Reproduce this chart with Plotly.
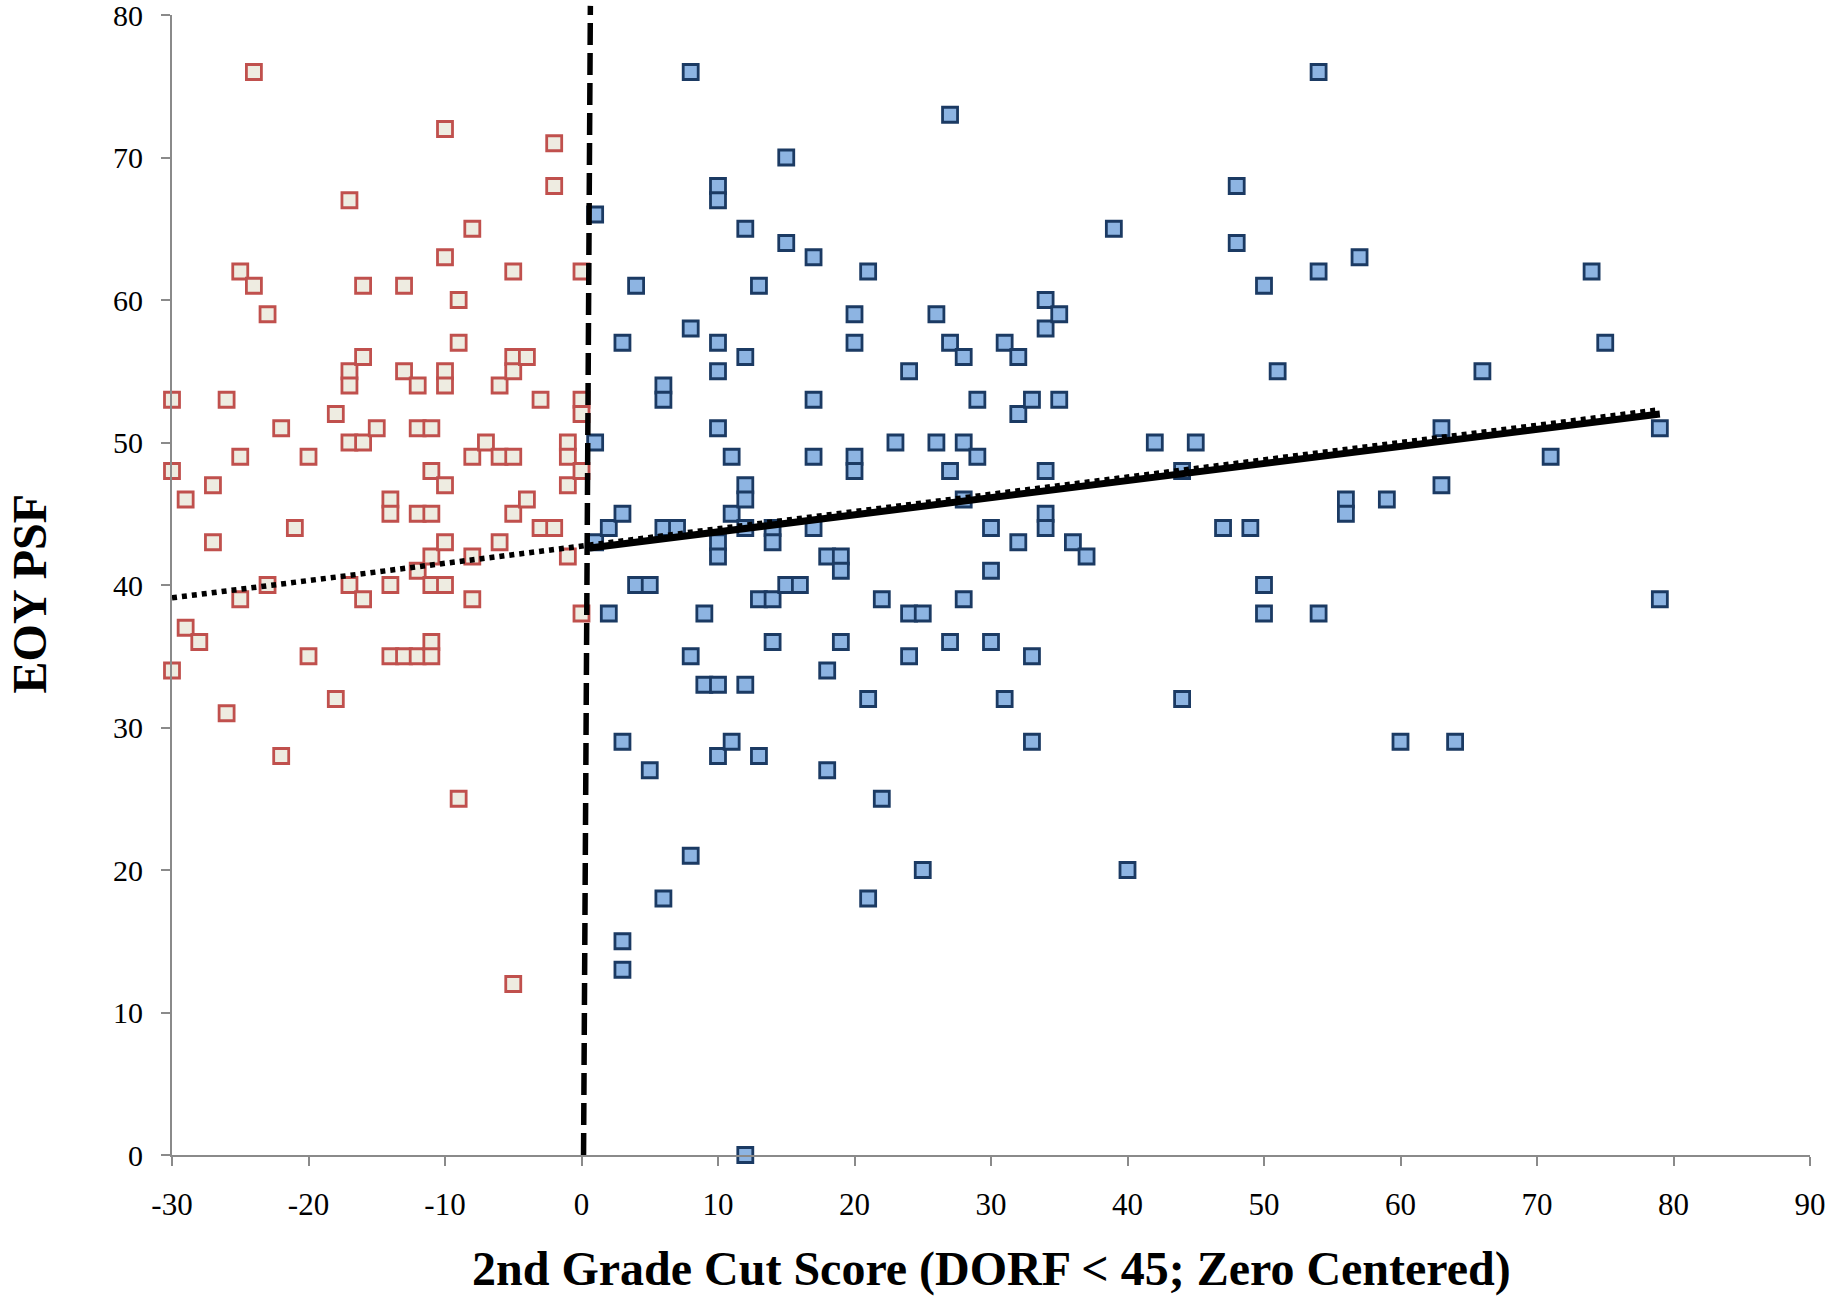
import plotly.graph_objects as go

# ---- data ----
below_x = [-30, -30, -30, -29, -29, -28, -27, -27, -26, -26,
           -25, -25, -25, -24, -24, -23, -23, -22, -22, -21,
           -20, -20, -18, -18, -17, -17, -17, -17, -17, -16,
           -16, -16, -16, -15, -14, -14, -14, -14, -13, -13,
           -13, -12, -12, -12, -12, -12, -11, -11, -11, -11,
           -11, -11, -11, -10, -10, -10, -10, -10, -10, -10,
           -9, -9, -9, -8, -8, -8, -8, -7, -6, -6,
           -6, -5, -5, -5, -5, -5, -5, -4, -4, -3,
           -3, -2, -2, -2, -1, -1, -1, -1, 0, 0,
           0, 0, 0]
below_y = [53, 48, 34, 46, 37, 36, 47, 43, 53, 31,
           62, 49, 39, 76, 61, 59, 40, 51, 28, 44,
           49, 35, 52, 32, 67, 55, 54, 50, 40, 61,
           56, 50, 39, 51, 46, 45, 40, 35, 61, 55,
           35, 54, 51, 45, 41, 35, 51, 48, 45, 42,
           40, 36, 35, 72, 63, 55, 54, 47, 43, 40,
           60, 57, 25, 65, 49, 42, 39, 50, 54, 49,
           43, 62, 56, 55, 49, 45, 12, 56, 46, 53,
           44, 71, 68, 44, 50, 49, 47, 42, 62, 53,
           52, 48, 38]

above_x = [1, 1, 1, 2, 2, 3, 3, 3, 3, 3,
           4, 4, 5, 5, 6, 6, 6, 6, 7, 8,
           8, 8, 8, 9, 9, 10, 10, 10, 10, 10,
           10, 10, 10, 10, 11, 11, 11, 12, 12, 12,
           12, 12, 12, 12, 13, 13, 13, 14, 14, 14,
           14, 15, 15, 15, 16, 17, 17, 17, 17, 18,
           18, 18, 19, 19, 19, 20, 20, 20, 20, 21,
           21, 21, 22, 22, 23, 24, 24, 24, 25, 25,
           26, 26, 27, 27, 27, 27, 28, 28, 28, 28,
           29, 29, 30, 30, 30, 31, 31, 32, 32, 32,
           33, 33, 33, 34, 34, 34, 34, 34, 35, 35,
           36, 37, 39, 40, 42, 44, 44, 45, 47, 48,
           48, 49, 50, 50, 50, 51, 54, 54, 54, 56,
           56, 57, 59, 60, 63, 63, 64, 66, 71, 74,
           75, 79, 79]
above_y = [66, 50, 43, 44, 38, 57, 45, 29, 15, 13,
           61, 40, 40, 27, 54, 53, 44, 18, 44, 76,
           58, 35, 21, 38, 33, 68, 67, 57, 55, 51,
           43, 42, 33, 28, 49, 45, 29, 65, 56, 47,
           46, 44, 33, 0, 61, 39, 28, 44, 43, 39,
           36, 70, 64, 40, 40, 63, 53, 49, 44, 42,
           34, 27, 42, 41, 36, 59, 57, 49, 48, 62,
           32, 18, 39, 25, 50, 55, 38, 35, 38, 20,
           59, 50, 73, 57, 48, 36, 56, 50, 46, 39,
           53, 49, 44, 41, 36, 57, 32, 56, 52, 43,
           53, 35, 29, 60, 58, 48, 45, 44, 59, 53,
           43, 42, 65, 20, 50, 48, 32, 50, 44, 68,
           64, 44, 61, 40, 38, 55, 76, 62, 38, 46,
           45, 63, 46, 29, 51, 47, 29, 55, 49, 62,
           57, 51, 39]

# trend lines (end points)
overall_trend_x = [-30, 79]
overall_trend_y = [39.1, 52.3]
above_trend_x = [0.6, 79]
above_trend_y = [42.6, 52.0]

# cut-score reference line (slightly tilted in the picture)
cut_x = [0.15, 0.65]

x_ticks = list(range(-30, 91, 10))
y_ticks = list(range(0, 81, 10))

SERIF = "Liberation Serif, Times New Roman, serif"
AXIS_GRAY = "#8a8a8a"

fig = go.Figure()

fig.add_trace(go.Scatter(
    x=below_x, y=below_y, mode="markers", cliponaxis=False,
    marker=dict(symbol="square", size=15, color="#EEECE1",
                line=dict(color="#C0504D", width=2.8)),
    showlegend=False, hoverinfo="x+y"))

fig.add_trace(go.Scatter(
    x=above_x, y=above_y, mode="markers", cliponaxis=False,
    marker=dict(symbol="square", size=15, color="#8DB4E2",
                line=dict(color="#1B3A63", width=2.8)),
    showlegend=False, hoverinfo="x+y"))

fig.add_trace(go.Scatter(
    x=overall_trend_x, y=overall_trend_y, mode="lines",
    line=dict(color="black", width=5.5, dash="5px,5px"),
    showlegend=False, hoverinfo="skip"))

fig.add_trace(go.Scatter(
    x=above_trend_x, y=above_trend_y, mode="lines",
    line=dict(color="black", width=7),
    showlegend=False, hoverinfo="skip"))

fig.add_shape(type="line", xref="x", yref="y domain",
              x0=cut_x[0], x1=cut_x[1], y0=0, y1=1.008,
              line=dict(color="black", width=5.5, dash="22px,8px"),
              layer="above")

fig.update_xaxes(
    range=[-30, 90], tickmode="array", tickvals=x_ticks,
    ticktext=[str(v) for v in x_ticks], automargin=False,
    showline=True, linecolor=AXIS_GRAY, linewidth=2,
    ticks="outside", ticklen=9, tickwidth=2, tickcolor=AXIS_GRAY,
    showgrid=False, zeroline=False, ticklabeloverflow="allow",
    tickfont=dict(family=SERIF, size=31, color="black"),
    ticklabelstandoff=12)

fig.update_yaxes(
    range=[0, 80], tickmode="array", tickvals=y_ticks,
    ticktext=[str(v) for v in y_ticks], automargin=False,
    showline=True, linecolor=AXIS_GRAY, linewidth=2,
    ticks="outside", ticklen=9, tickwidth=2, tickcolor=AXIS_GRAY,
    showgrid=False, zeroline=False, ticklabeloverflow="allow",
    tickfont=dict(family=SERIF, size=30, color="black"),
    ticklabelstandoff=12)

fig.add_annotation(
    text="<b>2nd Grade Cut Score (DORF &lt; 45; Zero Centered)</b>",
    xref="paper", yref="paper", x=0.5, y=-0.1,
    xanchor="center", yanchor="middle", showarrow=False,
    font=dict(family=SERIF, size=48, color="black"))

fig.add_annotation(
    text="<b>EOY PSF</b>", textangle=-90,
    xref="paper", yref="paper", x=-0.0864, y=0.493,
    xanchor="center", yanchor="middle", showarrow=False,
    font=dict(family=SERIF, size=48, color="black"))

fig.update_layout(
    width=1830, height=1296,
    margin=dict(l=172, r=20, t=15, b=141, autoexpand=False),
    plot_bgcolor="white", paper_bgcolor="white",
    showlegend=False)

fig.write_html(
    "out.html",
    config={"displayModeBar": False},
    post_script="document.body.style.margin='0';"
                "document.body.style.overflow='hidden';")
